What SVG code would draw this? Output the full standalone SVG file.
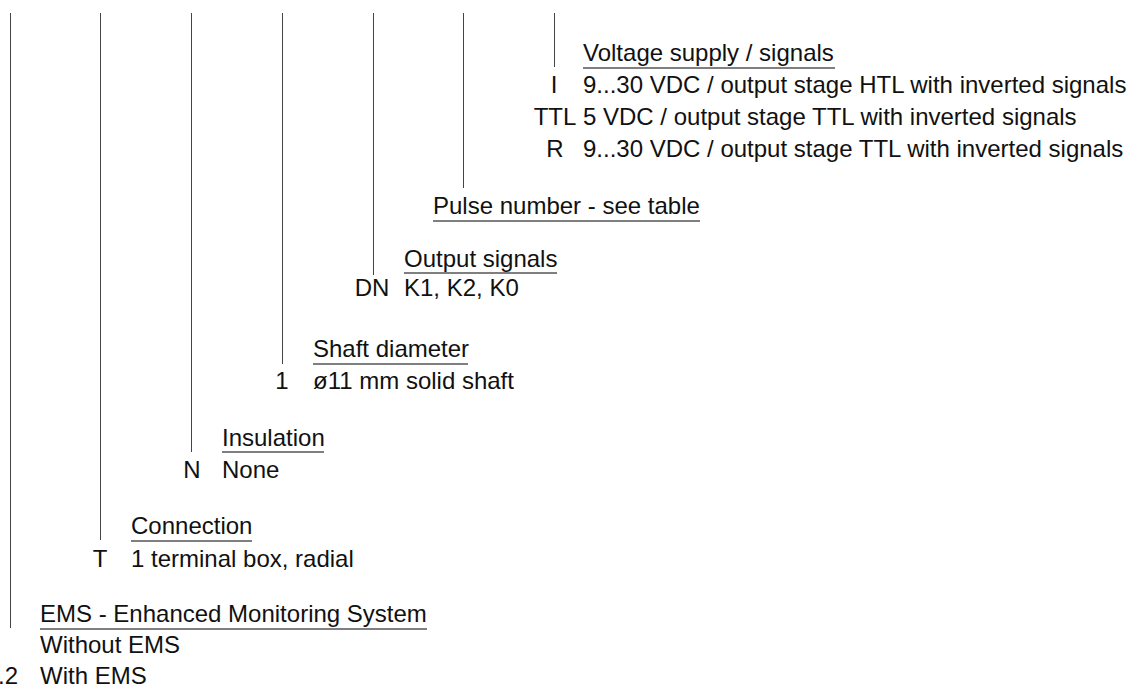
<svg xmlns="http://www.w3.org/2000/svg" width="1131" height="688" viewBox="0 0 1131 688">
<style>
text{font-family:"Liberation Sans",Arial,sans-serif;font-size:24px;fill:#111}
.c{text-anchor:middle}
.u{stroke:#555;stroke-width:1.5;fill:none}
.v{stroke:#444;stroke-width:1;fill:none}
</style>
<rect width="1131" height="688" fill="#fff"/>
<g id="connectors">
<line class="v" x1="10.5" y1="13" x2="10.5" y2="628"/>
<line class="v" x1="100.5" y1="13" x2="100.5" y2="540"/>
<line class="v" x1="191.5" y1="13" x2="191.5" y2="452"/>
<line class="v" x1="282.5" y1="13" x2="282.5" y2="364"/>
<line class="v" x1="373.5" y1="13" x2="373.5" y2="275"/>
<line class="v" x1="463.5" y1="13" x2="463.5" y2="188"/>
<line class="v" x1="554.5" y1="13" x2="554.5" y2="67"/>
</g>
<g id="voltage">
<text x="583" y="61">Voltage supply / signals</text>
<line class="u" x1="583" y1="68" x2="835" y2="68"/>
<text class="c" x="554" y="93">I</text>
<text x="583" y="93">9...30 VDC / output stage HTL with inverted signals</text>
<text class="c" x="555" y="125">TTL</text>
<text x="583" y="125">5 VDC / output stage TTL with inverted signals</text>
<text class="c" x="555" y="157">R</text>
<text x="583" y="157">9...30 VDC / output stage TTL with inverted signals</text>
</g>
<g id="pulse">
<text x="433" y="214">Pulse number - see table</text>
<line class="u" x1="433" y1="221" x2="700" y2="221"/>
</g>
<g id="output">
<text x="404" y="267">Output signals</text>
<line class="u" x1="404" y1="273" x2="557" y2="273"/>
<text class="c" x="372" y="296">DN</text>
<text x="404" y="296">K1, K2, K0</text>
</g>
<g id="shaft">
<text x="313" y="357">Shaft diameter</text>
<line class="u" x1="313" y1="364" x2="468" y2="364"/>
<text class="c" x="282" y="389">1</text>
<text x="313" y="389">ø11 mm solid shaft</text>
</g>
<g id="insulation">
<text x="222" y="446">Insulation</text>
<line class="u" x1="222" y1="452" x2="324" y2="452"/>
<text class="c" x="192" y="478">N</text>
<text x="222" y="478">None</text>
</g>
<g id="connection">
<text x="131" y="534">Connection</text>
<line class="u" x1="131" y1="541" x2="252" y2="541"/>
<text class="c" x="100" y="567">T</text>
<text x="131" y="567">1 terminal box, radial</text>
</g>
<g id="ems">
<text x="40" y="622">EMS - Enhanced Monitoring System</text>
<line class="u" x1="40" y1="629" x2="427" y2="629"/>
<text x="40" y="653">Without EMS</text>
<text x="-2" y="684">.2</text>
<text x="40" y="684">With EMS</text>
</g>
</svg>
